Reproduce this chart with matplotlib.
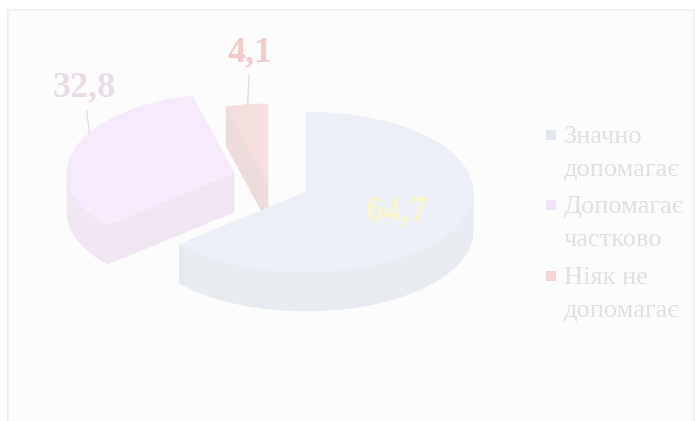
import numpy as np
import matplotlib
matplotlib.use("Agg")
import matplotlib.pyplot as plt
from matplotlib.patches import Polygon, Rectangle

# ---- data ----
categories = ["Значно\nдопомагає", "Допомагає\nчастково", "Ніяк не\nдопомагає"]
values = [64.7, 32.8, 4.1]
value_labels = ["64,7", "32,8", "4,1"]

# ---- style ----
top_colors = ["#ecf0f6", "#f6ebfa", "#f6dfdf"]
wall_colors = ["#e8ebf0", "#f0e7f2", "#efdcde"]
cut_colors = ["#e8eaf0", "#efe6f1", "#ecdcdc"]
legend_colors = ["#e2e8f0", "#f1e5f8", "#f2d6d6"]
label_colors = ["#f8f4cf", "#e9dee8", "#f1cccc"]
explode = [(0, 0), (-72, -19), (-38, -8)]   # pixel offsets of exploded slices

W, H = 695, 421
fig = plt.figure(figsize=(W / 100, H / 100), dpi=100)
ax = fig.add_axes([0, 0, 1, 1])
ax.set_xlim(0, W)
ax.set_ylim(H, 0)
ax.axis("off")

# panel background
ax.add_patch(Rectangle((8, 10), 686, 420, facecolor="#fcfcfc",
                       edgecolor="#f1f1f1", lw=1.5, zorder=0))

cx, cy, rx, ry, h = 306, 192, 167, 80, 39


def P(theta, r, z, off):
    t = np.radians(theta)
    return (cx + off[0] + r * rx * np.cos(t), cy + off[1] - r * ry * np.sin(t) + z)


total = sum(values)
spans = [v / total * 360 for v in values]
# slices go clockwise from 90 degrees
ranges = []
start = 90.0
for s in spans:
    ranges.append((start - s, start))  # ccw interval [a0, a1]
    start -= s

draw_order = [2, 1, 0]
for i in draw_order:
    a0, a1 = ranges[i]
    off = explode[i]
    apex_t = P(0, 0, 0, off)
    apex_b = P(0, 0, h, off)
    # radial cut faces
    for ang, front in ((a0, np.cos(np.radians(a0)) > 0), (a1, np.cos(np.radians(a1)) < 0)):
        if front:
            quad = [apex_t, P(ang, 1, 0, off), P(ang, 1, h, off), apex_b]
            ax.add_patch(Polygon(quad, closed=True, facecolor=cut_colors[i],
                                 edgecolor=cut_colors[i], lw=0.5, zorder=2))
    # outer wall (front part only: angles 180..360 mod 360)
    th = np.linspace(a0, a1, 400)
    vis = (np.mod(th, 360) >= 180)
    if vis.any():
        idx = np.where(vis)[0]
        runs = np.split(idx, np.where(np.diff(idx) != 1)[0] + 1)
        for run in runs:
            tt = th[run]
            topp = [P(t, 1, 0, off) for t in tt]
            botp = [P(t, 1, h, off) for t in tt[::-1]]
            ax.add_patch(Polygon(topp + botp, closed=True, facecolor=wall_colors[i],
                                 edgecolor=wall_colors[i], lw=0.5, zorder=2))
    # top face
    pts = [apex_t] + [P(t, 1, 0, off) for t in th]
    ax.add_patch(Polygon(pts, closed=True, facecolor=top_colors[i],
                         edgecolor=top_colors[i], lw=0.5, zorder=3))

# value labels
font = dict(family="Liberation Serif", weight="bold", fontsize=26)
mid0 = (ranges[0][0] + ranges[0][1]) / 2
ax.text(*P(mid0, 0.6, 0, explode[0]), value_labels[0], color=label_colors[0],
        ha="center", va="center", zorder=5, **font)

leader = "#e2e2e2"
ax.annotate(value_labels[1], xy=P(150, 1, 0, explode[1]), xytext=(84, 88),
            ha="center", va="center", color=label_colors[1], zorder=5,
            arrowprops=dict(arrowstyle="-", color=leader, lw=1, shrinkA=2, shrinkB=0), **font)
ax.annotate(value_labels[2], xy=P(97, 1, 0, explode[2]), xytext=(250, 53),
            ha="center", va="center", color=label_colors[2], zorder=5,
            arrowprops=dict(arrowstyle="-", color=leader, lw=1, shrinkA=2, shrinkB=0), **font)

# legend
ly = [137, 207, 278]
for i, (lab, y) in enumerate(zip(categories, ly)):
    ax.add_patch(Rectangle((546, y - 7), 10, 10, facecolor=legend_colors[i],
                           edgecolor="none", zorder=5))
    for k, line in enumerate(lab.split("\n")):
        ax.text(564, y + k * 33, line, family="Liberation Serif", fontsize=19,
                color="#e2e2e2", ha="left", va="center", zorder=5)

fig.savefig("out.png", dpi=100, facecolor="white")
